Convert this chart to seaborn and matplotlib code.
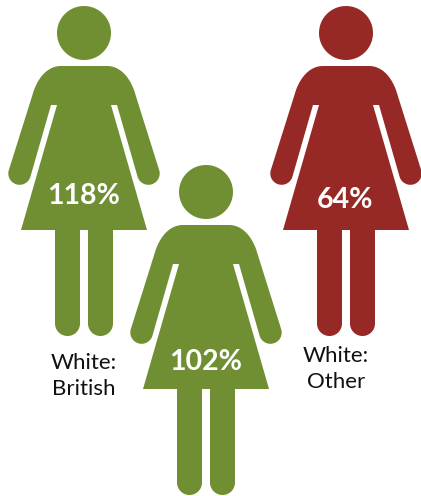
import numpy as np
import pandas as pd
import matplotlib
matplotlib.use("Agg")
import matplotlib.pyplot as plt
from matplotlib.path import Path
import seaborn as sns

# Ethnic groups and their percentages
labels = ["White:\nBritish", "", "White:\nOther"]
values = [118, 102, 64]
xpos = [84, 206, 346]
ypos = [171, 330, 171]
value_x = [84, 206, 345]
value_y = [196, 362, 200]
label_x = [84, 0, 336]
label_y = [376, 0, 369]
GREEN = "#708F33"
RED = "#962926"
colours = [GREEN, GREEN, RED]


def arc(cx, cy, r, a0, a1, n=40):
    t = np.radians(np.linspace(a0, a1, n))
    return np.column_stack([cx + r * np.cos(t), cy + r * np.sin(t)])


def bezier(p0, p1, p2, p3, n=30):
    t = np.linspace(0, 1, n)[:, None]
    p0, p1, p2, p3 = map(np.array, (p0, p1, p2, p3))
    return (1 - t) ** 3 * p0 + 3 * (1 - t) ** 2 * t * p1 + 3 * (1 - t) * t ** 2 * p2 + t ** 3 * p3


def woman_marker():
    """Restroom-style figure as one path, centred on its own midpoint."""
    half = np.vstack([
        [[0, 66]],
        bezier((23, 66), (34, 66), (44, 74), (50, 90)),
        arc(64.4, 173.5, 11.3, -16.7, 163.3),
        [[33, 105], [27, 105], [63, 230], [29, 230]],
        arc(16.5, 323.5, 12.5, 0, 180),
        [[4, 230], [0, 230]],
    ])
    body = np.vstack([half, half[-2:0:-1] * [-1, 1]])
    head = arc(0, 33, 27, 0, 360, 90)
    parts = []
    for poly in (body, head):
        pts = np.vstack([poly, poly[:1]]).copy()
        pts[:, 1] = 171 - pts[:, 1]
        codes = [Path.MOVETO] + [Path.LINETO] * (len(pts) - 2) + [Path.CLOSEPOLY]
        parts.append(Path(pts, codes))
    return Path.make_compound_path(*parts)


sns.set_theme(style="white")
plt.rcParams["font.family"] = ["Lato", "DejaVu Sans"]

df = pd.DataFrame({"x": xpos, "y": ypos, "value": values, "colour": colours})

fig = plt.figure(figsize=(4.21, 4.96), dpi=100)
ax = fig.add_axes([0, 0, 1, 1])

marker = woman_marker()
extent = np.abs(marker.vertices).max()
side_pt = 2 * extent * 72 / fig.dpi

sns.scatterplot(
    data=df, x="x", y="y", hue="colour", palette={GREEN: GREEN, RED: RED},
    marker=marker, s=side_pt ** 2, linewidth=0, legend=False, ax=ax, clip_on=False,
)

for v, vx, vy in zip(values, value_x, value_y):
    ax.text(vx, vy, f"{v}%", color="white", fontsize=20.5, fontweight="bold",
            ha="center", va="center")

for text, lx, ly in zip(labels, label_x, label_y):
    if text:
        ax.text(lx, ly, text, color="#111111", fontsize=16, ha="center",
                va="center", linespacing=1.36)

ax.set_xlim(0, 421)
ax.set_ylim(496, 0)
ax.set_axis_off()
fig.savefig("out.png", dpi=100, facecolor="white")
